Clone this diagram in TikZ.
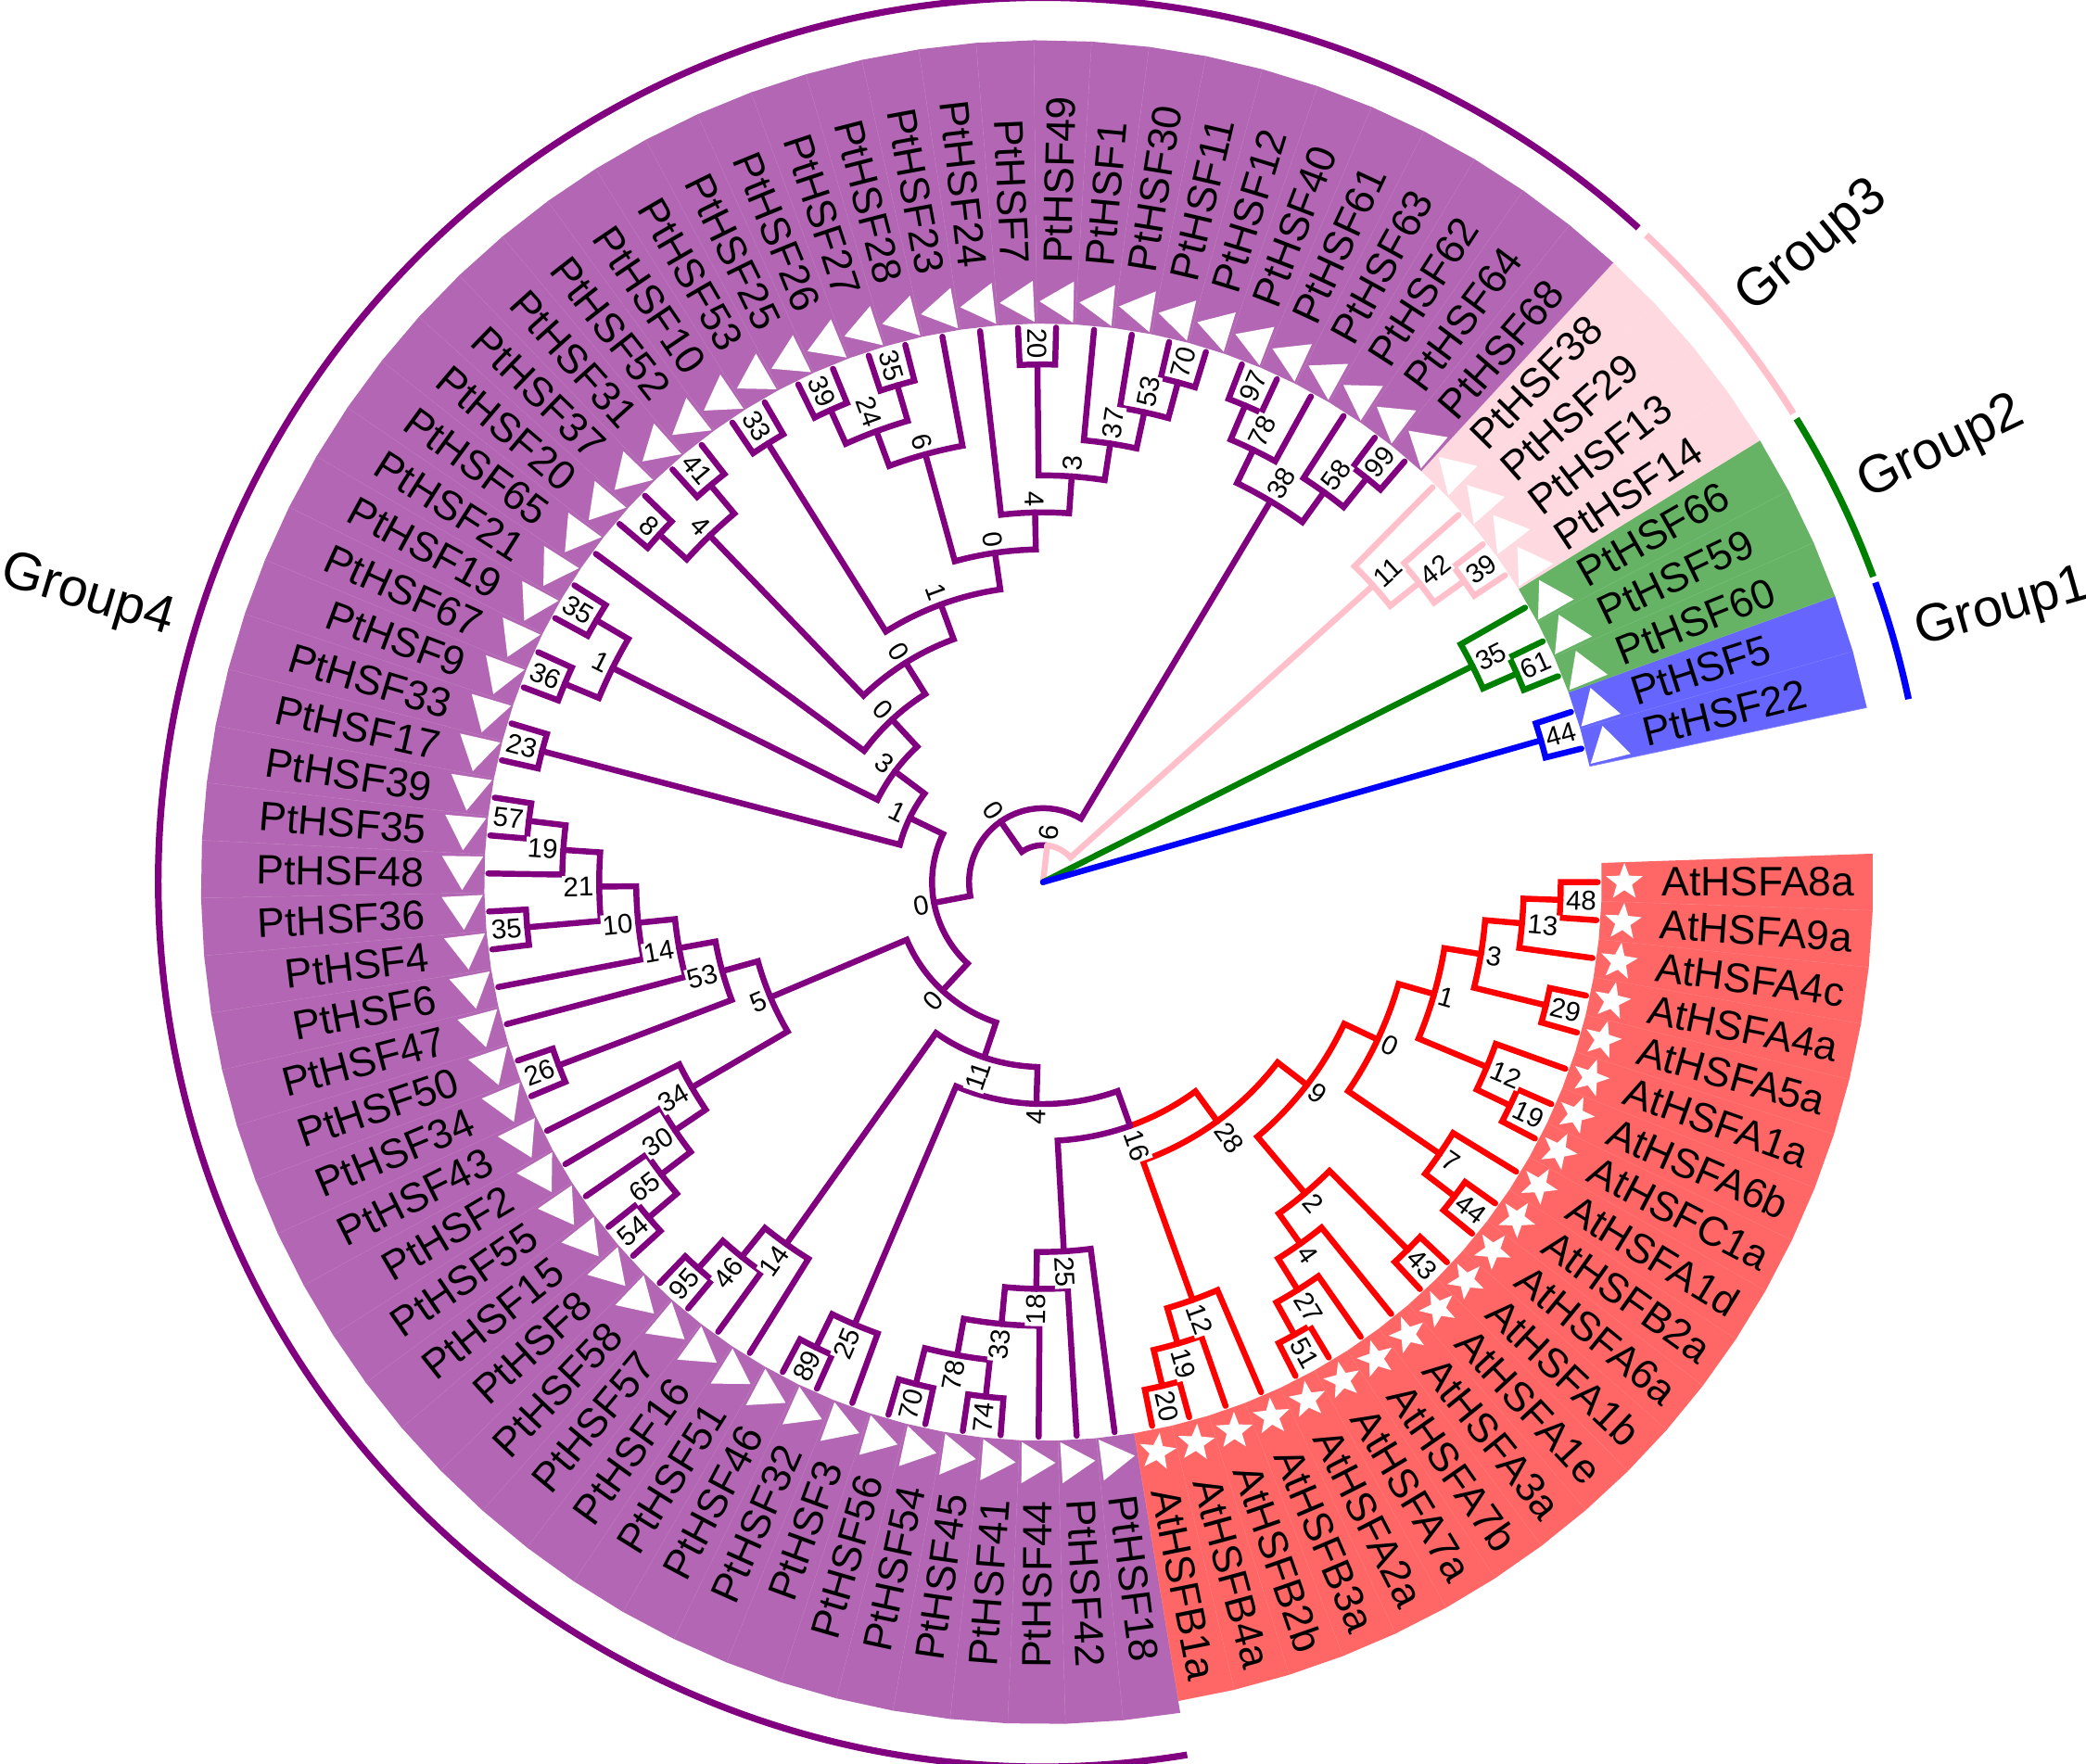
\documentclass[tikz,border=0pt]{standalone}
\usepackage{fontspec}
\setmainfont{Liberation Sans}
\usetikzlibrary{shapes.geometric}
\definecolor{cpur}{RGB}{128,0,128}
\definecolor{cred}{RGB}{255,0,0}
\definecolor{cpink}{RGB}{255,192,203}
\definecolor{cgreen}{RGB}{0,128,0}
\definecolor{cblue}{RGB}{0,0,255}
\newcommand\AS{3.932584}
\newcommand\HS{27.8}
\tikzset{
  br/.style={line width=4.5pt, line cap=round, line join=miter},
  lab/.style={font=\fontsize{31}{31}\selectfont, inner sep=0pt},
  bs/.style={font=\fontsize{20.5}{20.5}\selectfont, inner sep=1pt, fill=white},
  glab/.style={font=\fontsize{40}{40}\selectfont, inner sep=0pt},
  grp/.style={line width=5pt}
}
\newcommand\leaf[4]{%
  \expandafter\xdef\csname TP#1\endcsname{#1}%
  \expandafter\xdef\csname TH#1\endcsname{0}%
  \pgfmathsetmacro\laL{-\AS*#1}%
  \pgfmathsetmacro\laA{\laL-\AS/2}%
  \pgfmathsetmacro\laB{\laL+\AS/2}%
  \if S#3 \def\rOut{624}\else \def\rOut{633}\fi
  \fill[#4!60!white] (\laA:420pt) -- (\laA:\rOut pt) -- (\laB:\rOut pt) -- (\laB:420pt) -- cycle;
  \draw[#4!48!white, line width=0.5pt] (\laA:420pt) -- (\laA:\rOut pt);
  \if S#3
    \node[star, star points=5, star point ratio=2.4, fill=white, minimum size=29pt, inner sep=0pt, rotate=\laL] (s#1) at (\laL:437pt) {};
  \else
    \begin{scope}[rotate=\laL]
      \fill[white] (421,-12.7) -- (452,-12.7) -- (436.5,12.8) -- cycle;
    \end{scope}
  \fi
  \pgfmathtruncatemacro\lflip{cos(\laL)<0}%
  \ifnum\lflip=1
    \node[lab, anchor=east, rotate=\laL+180] (t#1) at (\laL:465pt) {#2};
  \else
    \node[lab, anchor=west, rotate=\laL] (t#1) at (\laL:465pt) {#2};
  \fi
}
\newcommand\tnode[6]{%
  \edef\tpA{\csname TP#2\endcsname}%
  \edef\tpB{\csname TP#3\endcsname}%
  \edef\thA{\csname TH#2\endcsname}%
  \edef\thB{\csname TH#3\endcsname}%
  \pgfmathsetmacro\tpN{(\tpA+\tpB)/2}%
  \pgfmathtruncatemacro\thN{max(\thA,\thB)+1}%
  \expandafter\xdef\csname TP#1\endcsname{\tpN}%
  \expandafter\xdef\csname TH#1\endcsname{\thN}%
  \pgfmathsetmacro\taA{-\AS*\tpA}%
  \pgfmathsetmacro\taB{-\AS*\tpB}%
  \pgfmathsetmacro\taM{-\AS*\tpN}%
  \pgfmathsetmacro\trA{\HS*(15-\thA)}%
  \pgfmathsetmacro\trB{\HS*(15-\thB)}%
  \pgfmathsetmacro\trN{\HS*(15-\thN)}%
  \pgfmathsetmacro\trL{\trN+3}%
  \draw[br,#5] (\taA:\trA pt) -- (\taA:\trN pt) arc[start angle=\taA, end angle=\taM, radius=\trN pt];
  \draw[br,#6] (\taM:\trN pt) arc[start angle=\taM, end angle=\taB, radius=\trN pt] -- (\taB:\trB pt);
  \pgfmathtruncatemacro\tflip{cos(\taM)<0}%
  \ifnum\tflip=1
    \node[bs,anchor=east,rotate=\taM+180] (b#1) at (\taM:\trL pt) {#4};
  \else
    \node[bs,anchor=west,rotate=\taM] (b#1) at (\taM:\trL pt) {#4};
  \fi
}
\newcommand\rootline[2]{%
  \pgfmathsetmacro\taX{-\AS*\csname TP#1\endcsname}%
  \pgfmathsetmacro\trX{\HS*(15-\csname TH#1\endcsname)}%
  \draw[br,#2] (root) -- (\taX:\trX pt);
}
\begin{document}
\begin{tikzpicture}[x=1pt,y=1pt]
\fill[white] (-784,-662.8) rectangle (784,663.2);
\useasboundingbox (-784,-662.8) rectangle (784,663.2);
\coordinate (root) at (0,0);
% leaves
\leaf{0}{AtHSFA8a}{S}{cred}
\leaf{1}{AtHSFA9a}{S}{cred}
\leaf{2}{AtHSFA4c}{S}{cred}
\leaf{3}{AtHSFA4a}{S}{cred}
\leaf{4}{AtHSFA5a}{S}{cred}
\leaf{5}{AtHSFA1a}{S}{cred}
\leaf{6}{AtHSFA6b}{S}{cred}
\leaf{7}{AtHSFC1a}{S}{cred}
\leaf{8}{AtHSFA1d}{S}{cred}
\leaf{9}{AtHSFB2a}{S}{cred}
\leaf{10}{AtHSFA6a}{S}{cred}
\leaf{11}{AtHSFA1b}{S}{cred}
\leaf{12}{AtHSFA1e}{S}{cred}
\leaf{13}{AtHSFA3a}{S}{cred}
\leaf{14}{AtHSFA7b}{S}{cred}
\leaf{15}{AtHSFA7a}{S}{cred}
\leaf{16}{AtHSFA2a}{S}{cred}
\leaf{17}{AtHSFB3a}{S}{cred}
\leaf{18}{AtHSFB2b}{S}{cred}
\leaf{19}{AtHSFB4a}{S}{cred}
\leaf{20}{AtHSFB1a}{S}{cred}
\leaf{21}{PtHSF18}{T}{cpur}
\leaf{22}{PtHSF42}{T}{cpur}
\leaf{23}{PtHSF44}{T}{cpur}
\leaf{24}{PtHSF41}{T}{cpur}
\leaf{25}{PtHSF45}{T}{cpur}
\leaf{26}{PtHSF54}{T}{cpur}
\leaf{27}{PtHSF56}{T}{cpur}
\leaf{28}{PtHSF3}{T}{cpur}
\leaf{29}{PtHSF32}{T}{cpur}
\leaf{30}{PtHSF46}{T}{cpur}
\leaf{31}{PtHSF51}{T}{cpur}
\leaf{32}{PtHSF16}{T}{cpur}
\leaf{33}{PtHSF57}{T}{cpur}
\leaf{34}{PtHSF58}{T}{cpur}
\leaf{35}{PtHSF8}{T}{cpur}
\leaf{36}{PtHSF15}{T}{cpur}
\leaf{37}{PtHSF55}{T}{cpur}
\leaf{38}{PtHSF2}{T}{cpur}
\leaf{39}{PtHSF43}{T}{cpur}
\leaf{40}{PtHSF34}{T}{cpur}
\leaf{41}{PtHSF50}{T}{cpur}
\leaf{42}{PtHSF47}{T}{cpur}
\leaf{43}{PtHSF6}{T}{cpur}
\leaf{44}{PtHSF4}{T}{cpur}
\leaf{45}{PtHSF36}{T}{cpur}
\leaf{46}{PtHSF48}{T}{cpur}
\leaf{47}{PtHSF35}{T}{cpur}
\leaf{48}{PtHSF39}{T}{cpur}
\leaf{49}{PtHSF17}{T}{cpur}
\leaf{50}{PtHSF33}{T}{cpur}
\leaf{51}{PtHSF9}{T}{cpur}
\leaf{52}{PtHSF67}{T}{cpur}
\leaf{53}{PtHSF19}{T}{cpur}
\leaf{54}{PtHSF21}{T}{cpur}
\leaf{55}{PtHSF65}{T}{cpur}
\leaf{56}{PtHSF20}{T}{cpur}
\leaf{57}{PtHSF37}{T}{cpur}
\leaf{58}{PtHSF31}{T}{cpur}
\leaf{59}{PtHSF52}{T}{cpur}
\leaf{60}{PtHSF10}{T}{cpur}
\leaf{61}{PtHSF53}{T}{cpur}
\leaf{62}{PtHSF25}{T}{cpur}
\leaf{63}{PtHSF26}{T}{cpur}
\leaf{64}{PtHSF27}{T}{cpur}
\leaf{65}{PtHSF28}{T}{cpur}
\leaf{66}{PtHSF23}{T}{cpur}
\leaf{67}{PtHSF24}{T}{cpur}
\leaf{68}{PtHSF7}{T}{cpur}
\leaf{69}{PtHSF49}{T}{cpur}
\leaf{70}{PtHSF1}{T}{cpur}
\leaf{71}{PtHSF30}{T}{cpur}
\leaf{72}{PtHSF11}{T}{cpur}
\leaf{73}{PtHSF12}{T}{cpur}
\leaf{74}{PtHSF40}{T}{cpur}
\leaf{75}{PtHSF61}{T}{cpur}
\leaf{76}{PtHSF63}{T}{cpur}
\leaf{77}{PtHSF62}{T}{cpur}
\leaf{78}{PtHSF64}{T}{cpur}
\leaf{79}{PtHSF68}{T}{cpur}
\leaf{80}{PtHSF38}{T}{cpink}
\leaf{81}{PtHSF29}{T}{cpink}
\leaf{82}{PtHSF13}{T}{cpink}
\leaf{83}{PtHSF14}{T}{cpink}
\leaf{84}{PtHSF66}{T}{cgreen}
\leaf{85}{PtHSF59}{T}{cgreen}
\leaf{86}{PtHSF60}{T}{cgreen}
\leaf{87}{PtHSF5}{T}{cblue}
\leaf{88}{PtHSF22}{T}{cblue}
% red clade
\tnode{ra}{0}{1}{48}{cred}{cred}
\tnode{rb}{ra}{2}{13}{cred}{cred}
\tnode{rc}{3}{4}{29}{cred}{cred}
\tnode{rd}{rb}{rc}{3}{cred}{cred}
\tnode{re}{6}{7}{19}{cred}{cred}
\tnode{rf}{5}{re}{12}{cred}{cred}
\tnode{rg}{rd}{rf}{1}{cred}{cred}
\tnode{rh}{9}{10}{44}{cred}{cred}
\tnode{ri}{8}{rh}{7}{cred}{cred}
\tnode{rj}{rg}{ri}{0}{cred}{cred}
\tnode{rk}{11}{12}{43}{cred}{cred}
\tnode{rl}{15}{16}{51}{cred}{cred}
\tnode{rm}{14}{rl}{27}{cred}{cred}
\tnode{rn}{13}{rm}{4}{cred}{cred}
\tnode{ro}{rk}{rn}{2}{cred}{cred}
\tnode{rp}{rj}{ro}{9}{cred}{cred}
\tnode{rq}{19}{20}{20}{cred}{cred}
\tnode{rr}{18}{rq}{19}{cred}{cred}
\tnode{rs}{17}{rr}{12}{cred}{cred}
\tnode{rt}{rp}{rs}{28}{cred}{cred}
% purple bottom
\tnode{pa}{26}{27}{70}{cpur}{cpur}
\tnode{pb}{24}{25}{74}{cpur}{cpur}
\tnode{pc}{pb}{pa}{78}{cpur}{cpur}
\tnode{pd}{23}{pc}{33}{cpur}{cpur}
\tnode{pe}{22}{pd}{18}{cpur}{cpur}
\tnode{pf}{21}{pe}{25}{cpur}{cpur}
\tnode{pg}{rt}{pf}{16}{cred}{cpur}
\tnode{ph}{29}{30}{89}{cpur}{cpur}
\tnode{pi}{28}{ph}{25}{cpur}{cpur}
\tnode{pj}{pg}{pi}{4}{cpur}{cpur}
\tnode{pk}{33}{34}{95}{cpur}{cpur}
\tnode{pl}{32}{pk}{46}{cpur}{cpur}
\tnode{pm}{31}{pl}{14}{cpur}{cpur}
\tnode{pn}{pj}{pm}{11}{cpur}{cpur}
% purple left
\tnode{qa}{35}{36}{54}{cpur}{cpur}
\tnode{qb}{qa}{37}{65}{cpur}{cpur}
\tnode{qc}{qb}{38}{30}{cpur}{cpur}
\tnode{qd}{qc}{39}{34}{cpur}{cpur}
\tnode{qe}{40}{41}{26}{cpur}{cpur}
\tnode{qf}{47}{48}{57}{cpur}{cpur}
\tnode{qg}{46}{qf}{19}{cpur}{cpur}
\tnode{qh}{44}{45}{35}{cpur}{cpur}
\tnode{qi}{qh}{qg}{21}{cpur}{cpur}
\tnode{qj}{43}{qi}{10}{cpur}{cpur}
\tnode{qk}{42}{qj}{14}{cpur}{cpur}
\tnode{ql}{qe}{qk}{53}{cpur}{cpur}
\tnode{qm}{qd}{ql}{5}{cpur}{cpur}
\tnode{qz}{pn}{qm}{0}{cpur}{cpur}
% purple upper left
\tnode{ua}{49}{50}{23}{cpur}{cpur}
\tnode{ub}{51}{52}{36}{cpur}{cpur}
\tnode{uc}{53}{54}{35}{cpur}{cpur}
\tnode{ud}{ub}{uc}{1}{cpur}{cpur}
\tnode{ue}{56}{57}{8}{cpur}{cpur}
\tnode{uf}{58}{59}{41}{cpur}{cpur}
\tnode{ug}{ue}{uf}{4}{cpur}{cpur}
\tnode{uh}{60}{61}{33}{cpur}{cpur}
\tnode{ui}{62}{63}{39}{cpur}{cpur}
\tnode{uj}{64}{65}{35}{cpur}{cpur}
\tnode{uk}{ui}{uj}{24}{cpur}{cpur}
\tnode{ul}{uk}{66}{6}{cpur}{cpur}
\tnode{um}{68}{69}{20}{cpur}{cpur}
\tnode{un}{72}{73}{70}{cpur}{cpur}
\tnode{uo}{71}{un}{53}{cpur}{cpur}
\tnode{up}{70}{uo}{37}{cpur}{cpur}
\tnode{uq}{um}{up}{3}{cpur}{cpur}
\tnode{ur}{67}{uq}{4}{cpur}{cpur}
\tnode{us}{ul}{ur}{0}{cpur}{cpur}
\tnode{ut}{uh}{us}{1}{cpur}{cpur}
\tnode{uu}{ug}{ut}{0}{cpur}{cpur}
\tnode{uv}{55}{uu}{0}{cpur}{cpur}
\tnode{uw}{ud}{uv}{3}{cpur}{cpur}
\tnode{ux}{ua}{uw}{1}{cpur}{cpur}
\tnode{qq}{qz}{ux}{0}{cpur}{cpur}
% purple right
\tnode{va}{74}{75}{97}{cpur}{cpur}
\tnode{vb}{va}{76}{78}{cpur}{cpur}
\tnode{vc}{78}{79}{99}{cpur}{cpur}
\tnode{vd}{77}{vc}{58}{cpur}{cpur}
\tnode{ve}{vb}{vd}{38}{cpur}{cpur}
\tnode{vz}{qq}{ve}{0}{cpur}{cpur}
% pink
\tnode{ka}{82}{83}{39}{cpink}{cpink}
\tnode{kb}{81}{ka}{42}{cpink}{cpink}
\tnode{kc}{80}{kb}{11}{cpink}{cpink}
\tnode{six}{vz}{kc}{6}{cpur}{cpink}
% green, blue
\tnode{ga}{85}{86}{61}{cgreen}{cgreen}
\tnode{gb}{84}{ga}{35}{cgreen}{cgreen}
\tnode{ba}{87}{88}{44}{cblue}{cblue}
\rootline{six}{cpink}
\rootline{gb}{cgreen}
\rootline{ba}{cblue}
% group arcs
\draw[grp, cpur] (-80.62:665pt) arc[start angle=-80.62, end angle=-312.3, radius=665pt];
\draw[grp, cpink] (-312.99:665pt) arc[start angle=-312.99, end angle=-328.0, radius=665pt];
\draw[grp, cgreen] (-328.4:665pt) arc[start angle=-328.4, end angle=-339.8, radius=665pt];
\draw[grp, cblue] (-340.2:665pt) arc[start angle=-340.2, end angle=-348.06, radius=665pt];
\node[glab, anchor=east, rotate=-16.63] (g4) at (163.37:683pt) {Group4};
\node[glab, anchor=west, rotate=39.5] (g3) at (39.5:683pt) {Group3};
\node[glab, anchor=west, rotate=25.73] (g2) at (25.73:683pt) {Group2};
\node[glab, anchor=west, rotate=15.88] (g1) at (15.88:683pt) {Group1};
\end{tikzpicture}
\end{document}
